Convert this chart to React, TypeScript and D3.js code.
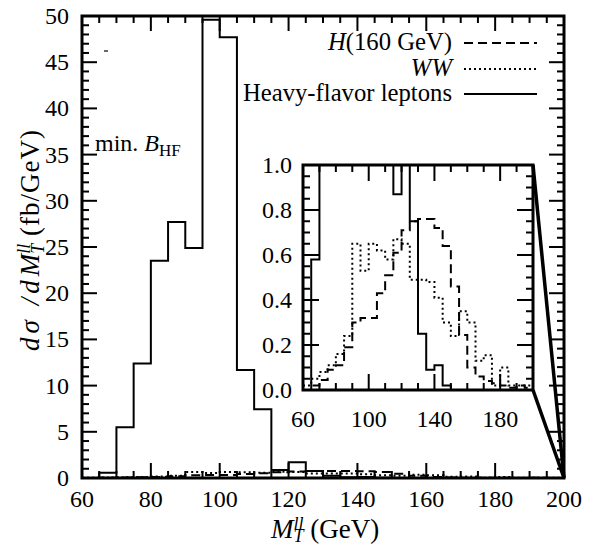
import React, { useEffect, useRef } from 'react';
import * as d3 from 'd3';

// lower edges of the 5 GeV bins
const binStarts = [60, 65, 70, 75, 80, 85, 90, 95, 100, 105, 110, 115, 120, 125, 130, 135, 140, 145, 150, 155, 160, 165, 170, 175, 180, 185, 190, 195];
const binEnd = 200;

// d sigma / d M_T (fb/GeV)
const heavyFlavor = [0, 0.58, 5.5, 12.4, 23.5, 27.7, 24.9, 49.6, 47.7, 11.7, 7.45, 0.87, 1.7, 0.75, 0.25, 0.09, 0.11, 0.02, 0, 0, 0, 0, 0, 0, 0, 0, 0, 0];
const higgs160 = [0, 0.02, 0.045, 0.09, 0.11, 0.19, 0.3, 0.32, 0.32, 0.43, 0.51, 0.61, 0.71, 0.75, 0.76, 0.76, 0.72, 0.64, 0.46, 0.245, 0.1, 0.06, 0.04, 0.03, 0.02, 0.01, 0.02, 0.01];
const wwBackground = [0.02, 0.05, 0.08, 0.11, 0.16, 0.24, 0.65, 0.53, 0.65, 0.62, 0.58, 0.67, 0.65, 0.49, 0.49, 0.48, 0.41, 0.3, 0.24, 0.35, 0.3, 0.13, 0.155, 0.02, 0.1, 0.02, 0.02, 0.02];

const mainXLabels = [60, 80, 100, 120, 140, 160, 180, 200];
const mainYLabels = [0, 5, 10, 15, 20, 25, 30, 35, 40, 45, 50];
const insetXLabels = [60, 100, 140, 180];
const insetYLabels = ['0.0', '0.2', '0.4', '0.6', '0.8', '1.0'];

const FONT = 'Liberation Serif, DejaVu Serif, serif';

function stepPoints(values: number[]): [number, number][] {
  const pts: [number, number][] = [];
  values.forEach((v, i) => {
    const x0 = binStarts[i];
    const x1 = i + 1 < binStarts.length ? binStarts[i + 1] : binEnd;
    pts.push([x0, v]);
    pts.push([x1, v]);
  });
  return pts;
}

export default function App() {
  const svgRef = useRef<SVGSVGElement>(null);

  useEffect(() => {
    if (!svgRef.current) return;
    const svg = d3.select(svgRef.current);
    svg.selectAll('*').remove();

    const series = [
      { values: higgs160, dash: '9,5' },
      { values: wwBackground, dash: '2,3' },
      { values: heavyFlavor, dash: null },
    ];

    // ---------- main plot ----------
    const x = d3.scaleLinear().domain([60, 200]).range([82, 564]);
    const y = d3.scaleLinear().domain([0, 50]).range([478, 16]);

    const main = svg.append('g');
    const line = d3.line<[number, number]>().x(d => x(d[0])).y(d => y(d[1]));

    series.forEach(s => {
      main.append('path')
        .attr('d', line(stepPoints(s.values)))
        .attr('fill', 'none')
        .attr('stroke', '#000')
        .attr('stroke-width', 2)
        .attr('stroke-dasharray', s.dash);
    });

    const drawTicks = (g, xs, ys, xMinor, xMajor, yMinor, yMajor, minorLen, majorLen) => {
      const [x0, x1] = xs.range();
      const [y0, y1] = ys.range();
      xMinor.forEach(v => {
        const len = xMajor.includes(v) ? majorLen : minorLen;
        g.append('line').attr('x1', xs(v)).attr('x2', xs(v)).attr('y1', y0).attr('y2', y0 - len)
          .attr('stroke', '#000').attr('stroke-width', 2);
        g.append('line').attr('x1', xs(v)).attr('x2', xs(v)).attr('y1', y1).attr('y2', y1 + len)
          .attr('stroke', '#000').attr('stroke-width', 2);
      });
      yMinor.forEach(v => {
        const len = yMajor.some(m => Math.abs(m - v) < 1e-6) ? majorLen : minorLen;
        g.append('line').attr('y1', ys(v)).attr('y2', ys(v)).attr('x1', x0).attr('x2', x0 + len)
          .attr('stroke', '#000').attr('stroke-width', 2);
        g.append('line').attr('y1', ys(v)).attr('y2', ys(v)).attr('x1', x1).attr('x2', x1 - len)
          .attr('stroke', '#000').attr('stroke-width', 2);
      });
      g.append('rect')
        .attr('x', x0).attr('y', y1)
        .attr('width', x1 - x0).attr('height', y0 - y1)
        .attr('fill', 'none').attr('stroke', '#000').attr('stroke-width', 3);
    };

    drawTicks(main, x, y,
      d3.range(60, 201, 5), mainXLabels,
      d3.range(0, 51, 1), mainYLabels,
      7, 15);

    const txt = (g, size = 24) => g.append('text')
      .style('font-family', FONT)
      .style('font-size', size + 'px')
      .attr('fill', '#000');

    mainXLabels.forEach(d => {
      txt(main).attr('x', x(d)).attr('y', 507).attr('text-anchor', 'middle').text(d);
    });
    mainYLabels.forEach(d => {
      txt(main).attr('x', 69).attr('y', y(d) + 8).attr('text-anchor', 'end').text(d);
    });

    // stray mark in the original figure
    main.append('line').attr('x1', 104).attr('x2', 108).attr('y1', 51).attr('y2', 51)
      .attr('stroke', '#000').attr('stroke-width', 1.2);

    // "min. B_HF"
    const minText = txt(main).attr('x', 95).attr('y', 151);
    minText.append('tspan').text('min. ');
    minText.append('tspan').style('font-style', 'italic').text('B');
    minText.append('tspan').style('font-size', '17px').attr('dy', 5).text('HF');

    // axis titles
    const xt = txt(main, 27).attr('x', 325).attr('y', 538).attr('text-anchor', 'middle');
    xt.append('tspan').style('font-style', 'italic').text('M');
    xt.append('tspan').style('font-style', 'italic').style('font-size', '18px').attr('dy', 4).text('T');
    xt.append('tspan').style('font-style', 'italic').style('font-size', '18px').attr('dx', -10).attr('dy', -12).text('ll');
    xt.append('tspan').attr('dy', 8).text(' (GeV)');

    const yt = txt(main, 27)
      .attr('transform', 'translate(39,240) rotate(-90)')
      .attr('text-anchor', 'middle');
    yt.append('tspan').style('font-style', 'italic').style('letter-spacing', '4px').text('dσ /dM');
    yt.append('tspan').style('font-style', 'italic').style('font-size', '18px').attr('dx', -4).attr('dy', 5).text('T');
    yt.append('tspan').style('font-style', 'italic').style('font-size', '18px').attr('dx', -10).attr('dy', -14).text('ll');
    yt.append('tspan').attr('dy', 9).style('letter-spacing', '1px').text(' (fb/GeV)');

    // legend
    const legend = [
      { label: 'H', rest: '(160 GeV)', italic: true, dash: '9,5', yPos: 43 },
      { label: 'WW', rest: '', italic: true, dash: '2,3', yPos: 69 },
      { label: 'Heavy-flavor leptons', rest: '', italic: false, dash: null, yPos: 94 },
    ];
    legend.forEach(l => {
      const t = txt(main, 24.7).attr('x', 452).attr('y', l.yPos + 7).attr('text-anchor', 'end');
      t.append('tspan').style('font-style', l.italic ? 'italic' : 'normal').text(l.label);
      if (l.rest) t.append('tspan').text(l.rest);
      main.append('line')
        .attr('x1', 464).attr('x2', 537).attr('y1', l.yPos).attr('y2', l.yPos)
        .attr('stroke', '#000').attr('stroke-width', 2)
        .attr('stroke-dasharray', l.dash);
    });

    // ---------- inset ----------
    const xi = d3.scaleLinear().domain([60, 200]).range([303, 533]);
    const yi = d3.scaleLinear().domain([0, 1]).range([390, 165]);
    const inset = svg.append('g');

    inset.append('rect')
      .attr('x', 303).attr('y', 165).attr('width', 230).attr('height', 225)
      .attr('fill', '#fff');

    svg.append('defs').append('clipPath').attr('id', 'inset-clip')
      .append('rect').attr('x', 303).attr('y', 165).attr('width', 230).attr('height', 225);

    const lineI = d3.line<[number, number]>().x(d => xi(d[0])).y(d => yi(d[1]));
    const insetData = inset.append('g').attr('clip-path', 'url(#inset-clip)');
    series.forEach(s => {
      insetData.append('path')
        .attr('d', lineI(stepPoints(s.values)))
        .attr('fill', 'none')
        .attr('stroke', '#000')
        .attr('stroke-width', 2)
        .attr('stroke-dasharray', s.dash);
    });

    drawTicks(inset, xi, yi,
      d3.range(60, 201, 10), insetXLabels,
      d3.range(0, 21, 1).map(i => i * 0.05), [0, 0.2, 0.4, 0.6, 0.8, 1.0],
      7, 16);

    insetXLabels.forEach(d => {
      txt(inset).attr('x', xi(d)).attr('y', 427).attr('text-anchor', 'middle').text(d);
    });
    insetYLabels.forEach(d => {
      txt(inset).attr('x', 292).attr('y', yi(+d) + 8).attr('text-anchor', 'end').text(d);
    });

    // zoom connector lines to the (200, 0) corner
    [1, 0].forEach(v => {
      svg.append('line')
        .attr('x1', xi(200)).attr('y1', yi(v))
        .attr('x2', x(200)).attr('y2', y(0))
        .attr('stroke', '#000').attr('stroke-width', 3.5);
    });
  }, []);

  return (
    <svg ref={svgRef} width={589} height={545}
      style={{ position: 'absolute', left: 0, top: 0, background: '#fff' }} />
  );
}
